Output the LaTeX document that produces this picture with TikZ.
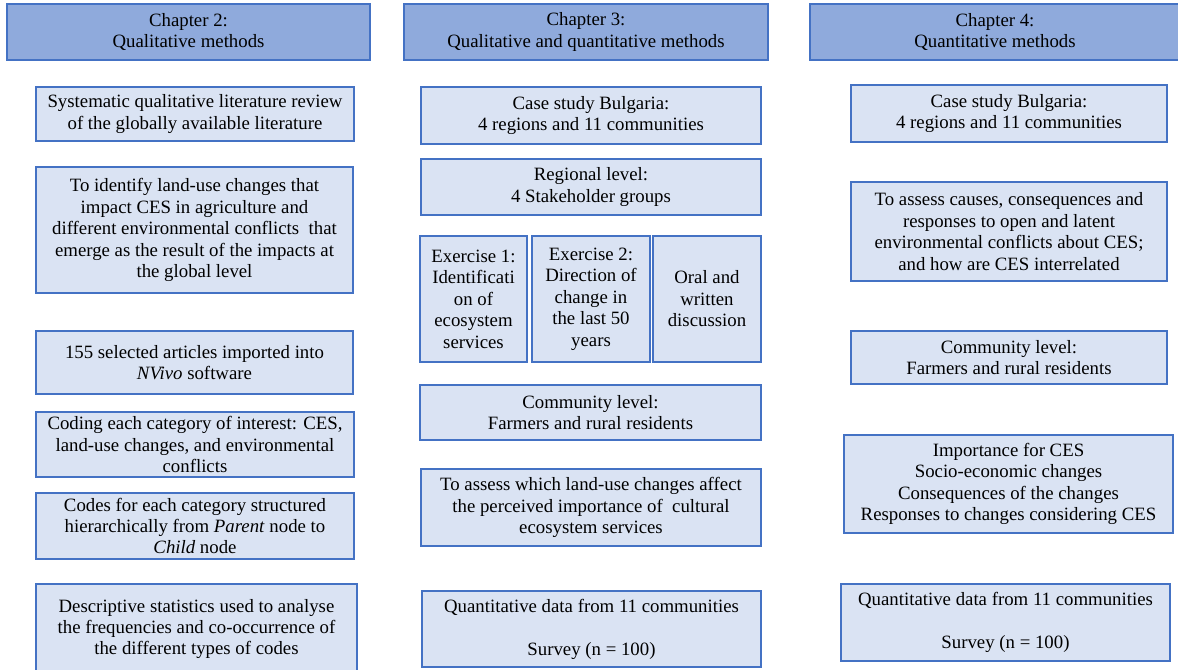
\documentclass[tikz,border=0pt]{standalone}
\usepackage{fontspec}
\setmainfont{Liberation Serif}
\definecolor{edgeblue}{HTML}{4472C4}
\definecolor{headfill}{HTML}{8FAADC}
\definecolor{boxfill}{HTML}{DAE3F3}
\begin{document}
\begin{tikzpicture}[x=0.75pt,y=-0.75pt,
  wd/.style={minimum width=#1*0.75pt},
  ht/.style={minimum height=#1*0.75pt},
  basebox/.style={rectangle, inner sep=0pt, align=center,
    font=\fontsize{14.1}{16.1}\selectfont},
  headbox/.style={basebox, draw=edgeblue, line width=1.6pt, fill=headfill},
  box/.style={basebox, draw=edgeblue, line width=1pt, fill=boxfill}]
\useasboundingbox (0,0) rectangle (1178,670);
\clip (0,0) rectangle (1178,670);
\fill[white] (0,0) rectangle (1178,670);

% chapter headers
\node[headbox, wd=363, ht=56] (h2) at (188.5,32) {Chapter 2:\\Qualitative methods};
\node[headbox, wd=364, ht=56] (h3) at (586,32) {Chapter 3:\\Qualitative and quantitative methods};
\node[headbox, wd=370, ht=56] (h4) at (995,32) {Chapter 4:\\Quantitative methods};

% chapter 2 column
\node[box, wd=318, ht=54] (a1) at (195,114)
  {Systematic qualitative literature review\\of the globally available literature};
\node[box, wd=317, ht=126] (a2) at (194.5,230)
  {To identify land-use changes that\\impact CES in agriculture and\\different environmental conflicts\ \ that\\emerge as the result of the impacts at\\the global level};
\node[box, wd=317, ht=63] (a3) at (194.5,362.5)
  {155 selected articles imported into\\\textit{NVivo} software};
\node[box, wd=318, ht=65] (a4) at (195,444.5)
  {Coding each category of interest: CES,\\land-use changes, and environmental\\conflicts};
\node[box, wd=318, ht=66] (a5) at (195,526)
  {Codes for each category structured\\hierarchically from \textit{Parent} node to\\\textit{Child} node};
\node[box, wd=321, ht=90] (a6) at (196.5,629)
  {Descriptive statistics used to analyse\\the frequencies and co-occurrence of\\the different types of codes};

% chapter 3 column
\node[box, wd=340, ht=57] (b1) at (591,115.5)
  {Case study Bulgaria:\\4 regions and 11 communities};
\node[box, wd=340, ht=56] (b2) at (591,187)
  {Regional level:\\4 Stakeholder groups};
\node[box, wd=107, ht=126] (b3) at (473.5,299)
  {Exercise 1:\\Identificati\\on of\\ecosystem\\services};
\node[box, wd=118, ht=126] (b4) at (591,299)
  {Exercise 2:\\Direction of\\change in\\the last 50\\years};
\node[box, wd=108, ht=126] (b5) at (707,299)
  {Oral and\\written\\discussion};
\node[box, wd=341, ht=55] (b6) at (590.5,412.5)
  {Community level:\\Farmers and rural residents};
\node[box, wd=340, ht=77] (b7) at (591,507.5)
  {To assess which land-use changes affect\\the perceived importance of\ \ cultural\\ecosystem services};
\node[box, wd=339, ht=76] (b8) at (591.5,629)
  {Quantitative data from 11 communities\\[16.1pt]Survey (n = 100)};

% chapter 4 column
\node[box, wd=316, ht=57] (c1) at (1009,113.5)
  {Case study Bulgaria:\\4 regions and 11 communities};
\node[box, wd=316, ht=99] (c2) at (1009,231.5)
  {To assess causes, consequences and\\responses to open and latent\\environmental conflicts about CES;\\and how are CES interrelated};
\node[box, wd=316, ht=53] (c3) at (1009,357.5)
  {Community level:\\Farmers and rural residents};
\node[box, wd=329, ht=98] (c4) at (1008.5,484)
  {Importance for CES\\Socio-economic changes\\Consequences of the changes\\Responses to changes considering CES};
\node[box, wd=329, ht=77] (c5) at (1005.5,622.5)
  {Quantitative data from 11 communities\\[16.1pt]Survey (n = 100)};
\end{tikzpicture}
\end{document}
